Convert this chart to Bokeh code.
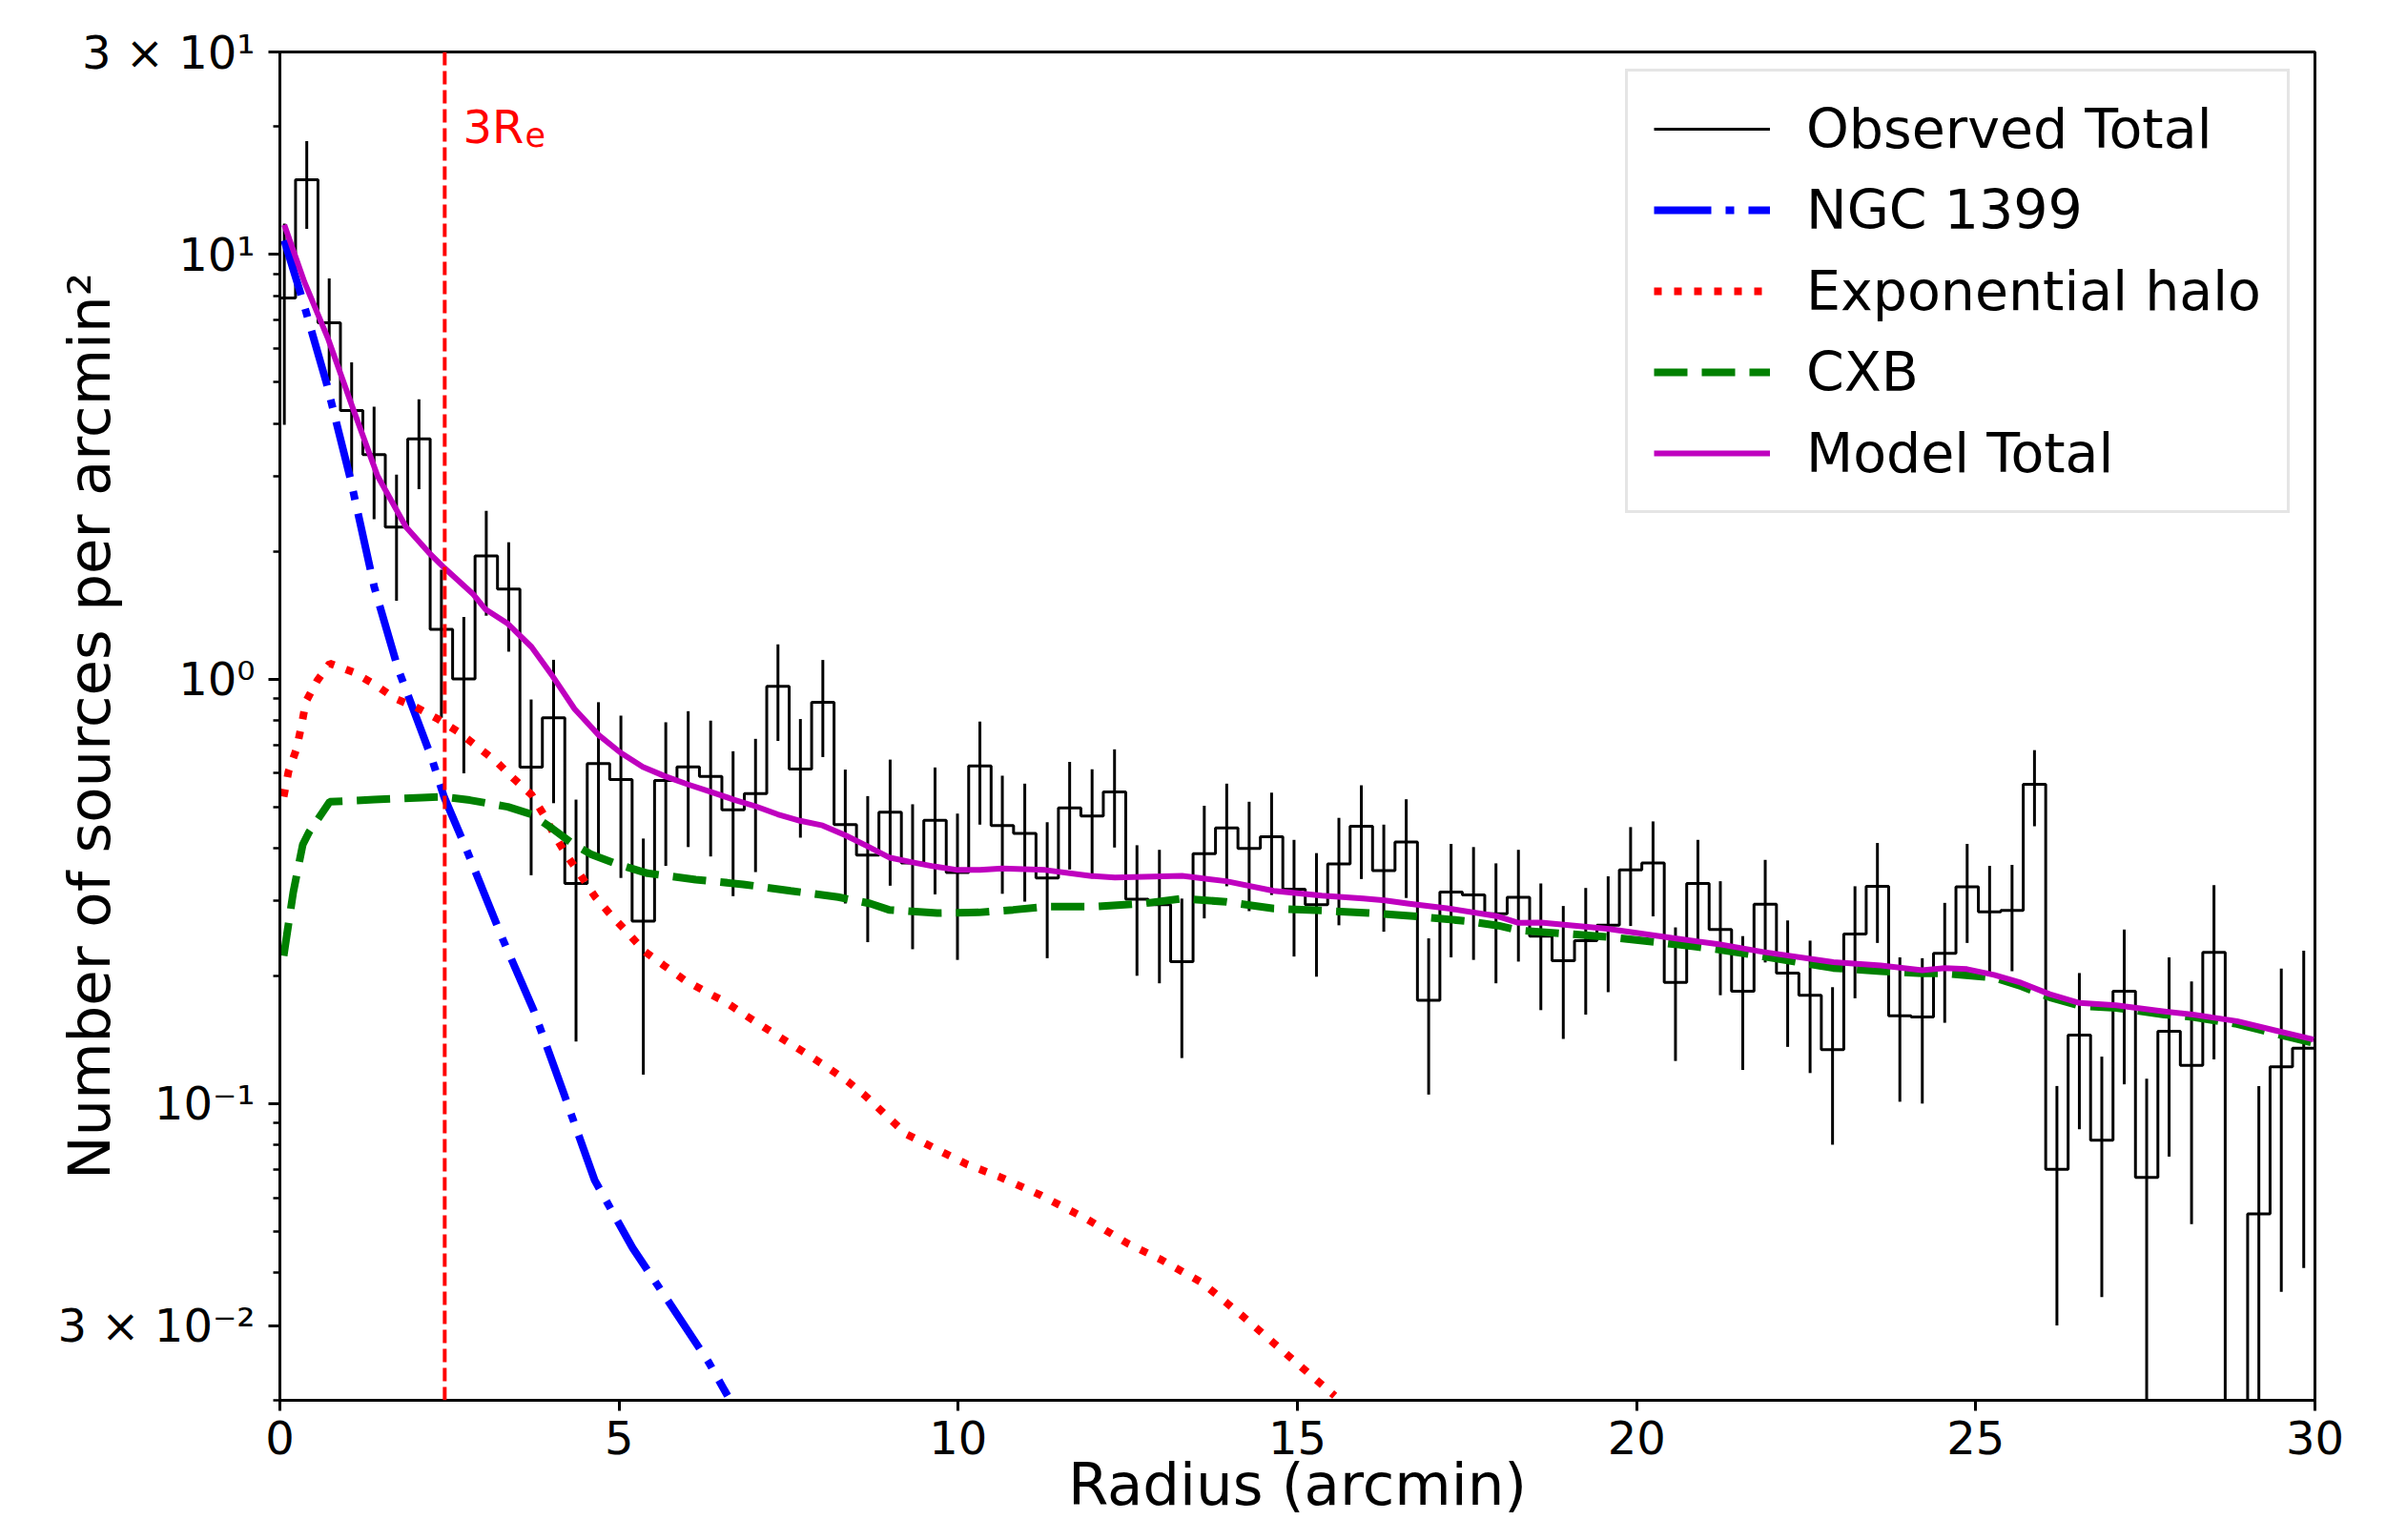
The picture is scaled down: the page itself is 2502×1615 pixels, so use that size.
import numpy as np
from bokeh.plotting import figure
from bokeh.models import Range1d, FixedTicker, Span, Label, Legend, LegendItem
from bokeh.embed import file_html
from bokeh.resources import INLINE

# ---------------- data ----------------
# radial bins (arcmin): 91 equal bins
bin_start = -0.1
bin_stop = 30.0
n_bins = 91

obs_values = [
    7.90, 15.0, 6.91, 4.29, 3.38, 2.28, 3.68, 1.31, 1.00, 1.95,
    1.63, 0.620, 0.810, 0.330, 0.632, 0.580, 0.269, 0.577, 0.621, 0.590,
    0.492, 0.537, 0.961, 0.614, 0.882, 0.454, 0.385, 0.486, 0.369, 0.465,
    0.350, 0.624, 0.452, 0.433, 0.340, 0.497, 0.476, 0.542, 0.303, 0.294,
    0.216, 0.388, 0.446, 0.399, 0.425, 0.320, 0.294, 0.367, 0.450, 0.354,
    0.413, 0.175, 0.315, 0.310, 0.280, 0.306, 0.248, 0.217, 0.242, 0.263,
    0.355, 0.369, 0.193, 0.330, 0.257, 0.184, 0.295, 0.203, 0.180, 0.134,
    0.251, 0.325, 0.161, 0.160, 0.226, 0.324, 0.283, 0.285, 0.565, 0.070,
    0.145, 0.082, 0.184, 0.067, 0.148, 0.123, 0.227, 0.0, 0.055, 0.122,
    0.135]

obs_errors = [
    3.93, 3.50, 1.87, 1.28, 1.00, 0.75, 0.88, 0.50, 0.40, 0.54,
    0.47, 0.275, 0.30, 0.19, 0.25, 0.24, 0.152, 0.214, 0.219, 0.208,
    0.184, 0.186, 0.246, 0.191, 0.227, 0.158, 0.145, 0.160, 0.138, 0.154,
    0.132, 0.170, 0.140, 0.134, 0.120, 0.141, 0.137, 0.141, 0.103, 0.102,
    0.088, 0.115, 0.121, 0.115, 0.115, 0.098, 0.095, 0.104, 0.112, 0.100,
    0.108, 0.070, 0.094, 0.092, 0.088, 0.090, 0.082, 0.075, 0.080, 0.080,
    0.093, 0.093, 0.067, 0.088, 0.077, 0.064, 0.080, 0.067, 0.062, 0.054,
    0.074, 0.086, 0.060, 0.060, 0.071, 0.085, 0.080, 0.080, 0.115, 0.040,
    0.058, 0.047, 0.073, 0.0475, 0.073, 0.071, 0.100, 0.0, 0.055, 0.086,
    0.094]

ngc_r = [0.065, 0.29, 0.38, 0.69, 1.04, 1.39, 1.74, 2.24, 2.42, 2.75, 3.27,
         3.74, 4.2, 4.64, 5.2, 5.76, 6.32, 6.6]
ngc_v = [10.8, 8.25, 7.38, 4.96, 2.96, 1.65, 1.06, 0.649, 0.528, 0.397, 0.247,
         0.166, 0.104, 0.066, 0.0457, 0.0336, 0.0246, 0.0205]

halo_r = [0.056, 0.127, 0.243, 0.314, 0.384, 0.548, 0.735, 1.087, 1.39, 1.697,
          2.01, 2.33, 2.63, 2.91, 3.195, 3.45, 3.71, 3.90, 4.06, 4.25, 4.46,
          4.65, 4.88, 5.14, 5.37, 5.66, 5.96, 6.27, 6.57, 6.875, 7.18, 7.475,
          7.775, 8.08, 8.37, 8.63, 9.23, 10.13, 10.6, 11.2, 11.9, 12.5, 13.0,
          13.6, 14.2, 14.8, 15.55]
halo_v = [0.528, 0.6055, 0.683, 0.771, 0.885, 0.99, 1.088, 1.037, 0.973, 0.90,
          0.858, 0.805, 0.751, 0.693, 0.638, 0.582, 0.534, 0.476, 0.425, 0.380,
          0.340, 0.3065, 0.278, 0.2514, 0.2287, 0.2116, 0.1957, 0.1837, 0.1735,
          0.161, 0.1498, 0.1399, 0.1306, 0.1215, 0.1128, 0.1043, 0.0848, 0.0719,
          0.0673, 0.061, 0.0534, 0.0468, 0.0428, 0.0378, 0.0315, 0.026, 0.0205]

cxb_r = [0.056, 0.197, 0.337, 0.432, 0.735, 1.39, 2.095, 2.42, 2.80, 3.36, 3.71,
         4.02, 4.30, 4.58, 4.95, 5.42, 6.13, 6.83, 7.53, 8.23, 8.70, 8.98, 9.69,
         10.30, 10.81, 11.28, 12.03, 12.73, 13.30, 13.95, 14.65, 15.36, 16.06,
         16.76, 17.47, 17.96, 18.26, 18.92, 19.57, 20.56, 21.21, 21.87, 22.90,
         23.60, 24.21, 24.54, 25.27, 25.67, 26.09, 26.53, 27.07, 27.78, 28.20,
         28.85, 29.42, 29.98]
cxb_v = [0.2228, 0.3145, 0.4074, 0.4365, 0.514, 0.520, 0.5257, 0.528, 0.5186,
         0.50, 0.48, 0.444, 0.411, 0.387, 0.3673, 0.3487, 0.337, 0.3284, 0.317,
         0.3065, 0.296, 0.286, 0.281, 0.282, 0.286, 0.291, 0.291, 0.296, 0.304,
         0.2986, 0.288, 0.285, 0.281, 0.276, 0.2693, 0.2625, 0.256, 0.2514,
         0.247, 0.2374, 0.2307, 0.222, 0.2086, 0.205, 0.2026, 0.2026, 0.198,
         0.189, 0.178, 0.170, 0.168, 0.162, 0.160, 0.154, 0.146, 0.139]

model_r = [0.065, 0.361, 0.713, 1.064, 1.439, 1.86, 2.19, 2.42, 2.84, 3.03, 3.36,
           3.71, 4.02, 4.344, 4.70, 5.02, 5.35, 5.68, 6.01, 6.36, 6.69, 7.02,
           7.34, 7.67, 8.0, 8.33, 8.66, 8.98, 9.31, 9.64, 9.99, 10.32, 10.65,
           11.28, 11.94, 12.31, 13.30, 13.95, 14.65, 15.36, 15.97, 16.29, 16.62,
           17.23, 17.96, 18.26, 18.59, 19.57, 20.56, 21.21, 21.87, 22.90, 23.60,
           24.21, 24.54, 24.87, 25.27, 25.67, 26.09, 26.53, 27.07, 27.78, 28.20,
           28.85, 29.42, 29.98]
model_v = [11.75, 8.62, 6.32, 4.40, 3.01, 2.28, 1.99, 1.83, 1.59, 1.46, 1.35,
           1.19, 1.016, 0.85, 0.738, 0.671, 0.621, 0.590, 0.565, 0.542, 0.520,
           0.501, 0.480, 0.4635, 0.452, 0.429, 0.404, 0.380, 0.3705, 0.362,
           0.355, 0.355, 0.358, 0.355, 0.344, 0.341, 0.344, 0.334, 0.317, 0.309,
           0.304, 0.301, 0.296, 0.288, 0.276, 0.2665, 0.267, 0.258, 0.245,
           0.2374, 0.2275, 0.2153, 0.2116, 0.206, 0.2086, 0.2073, 0.2009,
           0.1925, 0.181, 0.1726, 0.1705, 0.1648, 0.162, 0.1564, 0.1486, 0.1416]

three_re = 2.43           # 3 R_e marker (arcmin)
re_label_pos = (2.7, 20)  # label anchor (data)

x_ticks = [0, 5, 10, 15, 20, 25, 30]
y_ticks = [0.03, 0.1, 1, 10, 30]
y_tick_labels = ["3 × 10⁻²", "10⁻¹", "10⁰", "10¹", "3 × 10¹"]
y_minor = [0.02, 0.04, 0.05, 0.06, 0.07, 0.08, 0.09,
           0.2, 0.3, 0.4, 0.5, 0.6, 0.7, 0.8, 0.9,
           2, 3, 4, 5, 6, 7, 8, 9, 20]

x_title = "Radius (arcmin)"
y_title = "Number of sources per arcmin²"
legend_labels = ["Observed Total", "NGC 1399", "Exponential halo", "CXB", "Model Total"]

# ---------------- plot ----------------
FONT = "DejaVu Sans"
edges = np.linspace(bin_start, bin_stop, n_bins + 1)
centers = 0.5 * (edges[:-1] + edges[1:])
vals = np.array(obs_values)
errs = np.array(obs_errors)
floor = 1e-4

p = figure(width=2486, height=1599, x_range=Range1d(0, 30), y_range=Range1d(0.02, 30),
           y_axis_type="log", output_backend="svg", toolbar_location=None,
           min_border_left=293, min_border_right=59, min_border_top=54, min_border_bottom=131)
p.xgrid.visible = False
p.ygrid.visible = False
p.background_fill_color = "white"
p.border_fill_color = "white"
p.outline_line_color = "black"
p.outline_line_width = 3
p.outline_line_alpha = 1.0

step_y = np.clip(np.append(vals, vals[-1]), floor, None)
r_obs = p.step(edges, step_y, mode="after", line_color="black", line_width=3)

mask = errs > 0
lo = np.clip(vals - errs, floor, None)
hi = vals + errs
p.segment(x0=centers[mask], y0=lo[mask], x1=centers[mask], y1=hi[mask],
          line_color="black", line_width=3)

r_ngc = p.line(ngc_r, ngc_v, line_color="#0000ff", line_width=8, line_dash="60 15 9 15")
r_halo = p.line(halo_r, halo_v, line_color="#ff0000", line_width=8, line_dash="8 13")
r_cxb = p.line(cxb_r, cxb_v, line_color="#008000", line_width=8, line_dash="35 15")
r_model = p.line(model_r, model_v, line_color="#bf00bf", line_width=6, line_join="round")

p.add_layout(Span(location=three_re, dimension="height", line_color="#ff0000",
                  line_width=4, line_dash="14 6"))
p.add_layout(Label(x=re_label_pos[0], y=re_label_pos[1], text="3R", text_color="#ff0000",
                   text_font=FONT, text_font_size="48px", text_align="left",
                   text_baseline="alphabetic"))
p.add_layout(Label(x=re_label_pos[0], y=re_label_pos[1], text="e", text_color="#ff0000",
                   text_font=FONT, text_font_size="35px", text_align="left",
                   text_baseline="alphabetic", x_offset=65, y_offset=-8))

# axes
for ax in (p.xaxis[0], p.yaxis[0]):
    ax.axis_line_width = 3
    ax.axis_line_color = "black"
    ax.major_tick_line_width = 3
    ax.minor_tick_line_width = 2.5
    ax.major_tick_in = 0
    ax.minor_tick_in = 0
    ax.major_label_text_font = FONT
    ax.major_label_text_font_size = "48px"
    ax.major_label_text_color = "black"
    ax.axis_label_text_font = FONT
    ax.axis_label_text_font_size = "61px"
    ax.axis_label_text_font_style = "normal"
    ax.axis_label_text_color = "black"

p.xaxis.ticker = FixedTicker(ticks=x_ticks, minor_ticks=[])
p.xaxis.major_tick_out = 11
p.xaxis.minor_tick_out = 0
p.xaxis.major_label_standoff = 10
p.xaxis.axis_label = x_title
p.xaxis.axis_label_standoff = -7

p.yaxis.ticker = FixedTicker(ticks=y_ticks, minor_ticks=y_minor)
p.yaxis.major_label_overrides = {t: s for t, s in zip(y_ticks, y_tick_labels)}
p.yaxis.major_tick_out = 12
p.yaxis.minor_tick_out = 7
p.yaxis.major_label_standoff = 14
p.yaxis.axis_label = y_title
p.yaxis.axis_label_standoff = -71

legend = Legend(items=[LegendItem(label=lab, renderers=[r]) for lab, r in
                       zip(legend_labels, [r_obs, r_ngc, r_halo, r_cxb, r_model])],
                location=(1411, 930), margin=0,
                label_text_font=FONT, label_text_font_size="57px", label_text_color="black",
                glyph_width=122, glyph_height=66, label_height=66,
                spacing=19, padding=27, label_standoff=38,
                border_line_color="#cccccc", border_line_width=3,
                background_fill_color="white", background_fill_alpha=1.0)
p.add_layout(legend)

open("out.html", "w").write(file_html(p, INLINE, "plot"))
